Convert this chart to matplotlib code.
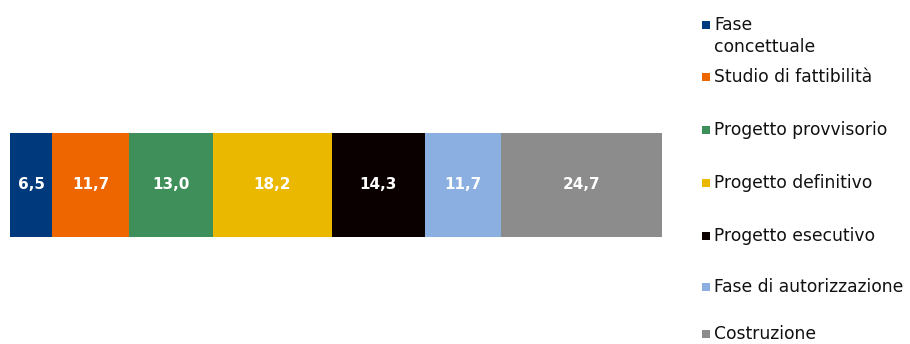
import matplotlib.pyplot as plt
from matplotlib.patches import Rectangle

phases = ["Fase\nconcettuale", "Studio di fattibilità", "Progetto provvisorio",
          "Progetto definitivo", "Progetto esecutivo", "Fase di autorizzazione",
          "Costruzione"]
values = [6.5, 11.7, 13.0, 18.2, 14.3, 11.7, 24.7]
labels = ["6,5", "11,7", "13,0", "18,2", "14,3", "11,7", "24,7"]
colors = ["#003A7D", "#EE6600", "#3F8F5A", "#EBB800", "#0A0000", "#8AAFE0", "#8C8C8C"]

W, H = 910, 344
fig = plt.figure(figsize=(W / 100, H / 100), dpi=100)
ax = fig.add_axes([10 / W, 0, 652 / W, 1])

left = 0
for i in range(len(values)):
    ax.barh(0, values[i], left=left, height=1, color=colors[i], linewidth=0)
    ax.text(left + values[i] / 2, 0, labels[i], color="white", ha="center", va="center",
            fontsize=11, fontweight="bold")
    left += values[i]

ax.set_xlim(0, sum(values))
ax.set_ylim(-0.5 - 107 / 104, 0.5 + 133 / 104)
ax.axis("off")

# legend drawn by hand, one row every ~52 px (last one pulled up so it isn't clipped)
ys = [25, 77, 130, 183, 236, 287, 334]
for i in range(len(phases)):
    y = ys[i]
    fig.patches.append(Rectangle(((702) / W, 1 - (y + 4) / H), 8 / W, 8 / H,
                                 transform=fig.transFigure, color=colors[i], linewidth=0))
    for k, line in enumerate(phases[i].split("\n")):
        fig.text(714 / W, 1 - (y + k * 22) / H, line, ha="left", va="center",
                 fontsize=12.3, color="#111111")

fig.savefig("out.png", dpi=100)
